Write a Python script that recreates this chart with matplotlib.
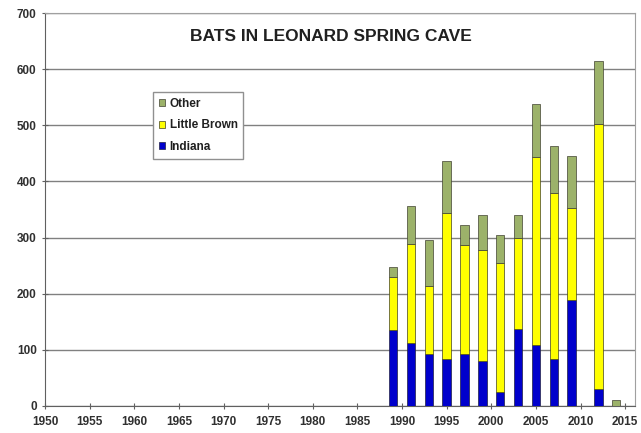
import matplotlib
matplotlib.use("Agg")
import matplotlib.pyplot as plt

years = [1989, 1991, 1993, 1995, 1997, 1999, 2001, 2003, 2005, 2007, 2009, 2012, 2014]
indiana = [135, 112, 92, 83, 92, 80, 25, 138, 109, 83, 189, 31, 0]
little_brown = [95, 176, 121, 260, 195, 198, 230, 162, 335, 297, 163, 471, 0]
other = [17, 68, 83, 94, 35, 62, 50, 41, 94, 83, 94, 113, 10]
x_ticks = list(range(1950, 2016, 5))
y_ticks = list(range(0, 701, 100))

plt.rcParams['font.family'] = ['Liberation Sans', 'DejaVu Sans']

fig = plt.figure(figsize=(6.41, 4.33), dpi=100)
ax = fig.add_axes([45/641, 1 - 406/433, (635-45)/641, (406-13)/433])

w = 0.95
lb_bottom = indiana
oth_bottom = [a + b for a, b in zip(indiana, little_brown)]
ax.bar(years, indiana, width=w, color='#0000CC', edgecolor='#202040', linewidth=0.5, label='Indiana', zorder=3)
ax.bar(years, little_brown, width=w, bottom=lb_bottom, color='#FFFF00', edgecolor='#404020', linewidth=0.5, label='Little Brown', zorder=3)
ax.bar(years, other, width=w, bottom=oth_bottom, color='#9CB26A', edgecolor='#404030', linewidth=0.5, label='Other', zorder=3)

ax.set_xlim(1950, 2016.1)
ax.set_ylim(0, 700)
ax.set_xticks(x_ticks)
ax.set_yticks(y_ticks)
ax.yaxis.grid(True, color='#808080', linewidth=1.0, zorder=0)
ax.set_axisbelow(True)
for s in ['top', 'right']:
    ax.spines[s].set_color('#A0A0A0')
for s in ['left', 'bottom']:
    ax.spines[s].set_color('#606060')
ax.tick_params(direction='inout', length=4, color='#606060', labelsize=8.5, labelcolor='#303030')
ax.tick_params(axis='x', pad=5)
ax.tick_params(axis='y', pad=4)
for lbl in ax.get_xticklabels() + ax.get_yticklabels():
    lbl.set_fontweight('bold')

ax.text(0.485, 0.94, 'BATS IN LEONARD SPRING CAVE', transform=ax.transAxes, ha='center', va='center',
        fontsize=12.5, fontweight='bold', color='#202020')

handles, labels = ax.get_legend_handles_labels()
leg = ax.legend(handles[::-1], labels[::-1], loc='upper left', bbox_to_anchor=(108/590, 1 - 79/393),
                fontsize=8.5, frameon=True, fancybox=False, edgecolor='#909090', framealpha=1,
                handlelength=0.55, handleheight=0.55, handletextpad=0.35, borderpad=0.5, labelspacing=0.8,
                borderaxespad=0)
for t in leg.get_texts():
    t.set_fontweight('bold')
    t.set_color('#202020')

fig.savefig('out.png', dpi=100)
